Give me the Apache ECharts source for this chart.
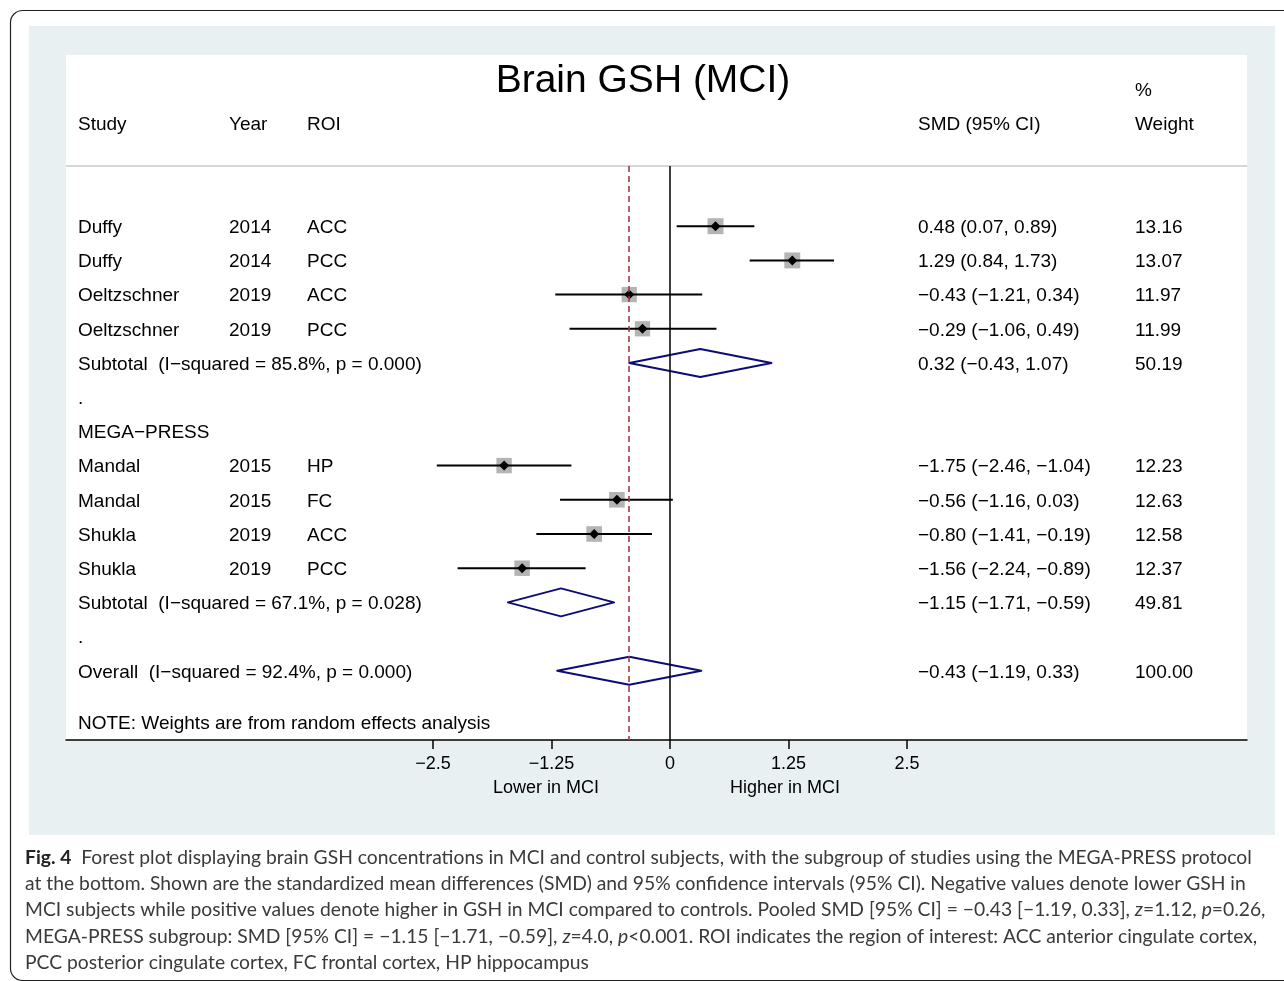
<!DOCTYPE html>
<html>
<head>
<meta charset="utf-8">
<script src="https://cdn.jsdelivr.net/npm/echarts@6/dist/echarts.min.js"></script>
<style>
html,body{margin:0;padding:0;background:#fff;}
#chart{width:1284px;height:981px;}
</style>
</head>
<body>
<div id="chart"></div>
<script>
// ---------- data ----------
const chartTitle = 'Brain GSH (MCI)';
const rowStudy = ['', 'Duffy', 'Duffy', 'Oeltzschner', 'Oeltzschner',
  'Subtotal  (I\u2212squared = 85.8%, p = 0.000)', '.', 'MEGA\u2212PRESS',
  'Mandal', 'Mandal', 'Shukla', 'Shukla',
  'Subtotal  (I\u2212squared = 67.1%, p = 0.028)', '.',
  'Overall  (I\u2212squared = 92.4%, p = 0.000)'];
const rowYear = ['', '2014', '2014', '2019', '2019', '', '', '', '2015', '2015', '2019', '2019', '', '', ''];
const rowROI  = ['', 'ACC', 'PCC', 'ACC', 'PCC', '', '', '', 'HP', 'FC', 'ACC', 'PCC', '', '', ''];
const rowType = ['', 'study', 'study', 'study', 'study', 'pooled', '', '', 'study', 'study', 'study', 'study', 'pooled', '', 'pooled'];
const rowSMD  = [null, 0.48, 1.29, -0.43, -0.29, 0.32, null, null, -1.75, -0.56, -0.80, -1.56, -1.15, null, -0.43];
const rowLo   = [null, 0.07, 0.84, -1.21, -1.06, -0.43, null, null, -2.46, -1.16, -1.41, -2.24, -1.71, null, -1.19];
const rowHi   = [null, 0.89, 1.73, 0.34, 0.49, 1.07, null, null, -1.04, 0.03, -0.19, -0.89, -0.59, null, 0.33];
const rowWeight = [null, 13.16, 13.07, 11.97, 11.99, 50.19, null, null, 12.23, 12.63, 12.58, 12.37, 49.81, null, 100.00];
const tickValues = [-2.5, -1.25, 0, 1.25, 2.5];
const overallSMD = rowSMD[14];
const headers = { study: 'Study', year: 'Year', roi: 'ROI', smd: 'SMD (95% CI)', pct: '%', weight: 'Weight' };
const noteText = 'NOTE: Weights are from random effects analysis';
const lowerLabel = 'Lower in MCI';
const higherLabel = 'Higher in MCI';
const captionLines = [
  '{b|Fig. 4}  Forest plot displaying brain GSH concentrations in MCI and control subjects, with the subgroup of studies using the MEGA-PRESS protocol',
  'at the bottom. Shown are the standardized mean differences (SMD) and 95% confidence intervals (95% CI). Negative values denote lower GSH in',
  'MCI subjects while positive values denote higher in GSH in MCI compared to controls. Pooled SMD [95% CI] = \u22120.43 [\u22121.19, 0.33], {i|z}=1.12, {i|p}=0.26,',
  'MEGA-PRESS subgroup: SMD [95% CI] = \u22121.15 [\u22121.71, \u22120.59], {i|z}=4.0, {i|p}<0.001. ROI indicates the region of interest: ACC anterior cingulate cortex,',
  'PCC posterior cingulate cortex, FC frontal cortex, HP hippocampus'
];

// ---------- helpers ----------
const FONT = '"Liberation Sans", Arial, Helvetica, sans-serif';
const TY = 1.5; // baseline nudge for text
function fmt(v) { return (v < 0 ? '\u2212' : '') + Math.abs(v).toFixed(2); }

const studyData = [], pooledData = [], textData = [];
rowStudy.forEach((s, i) => {
  textData.push([i]);
  if (rowType[i] === 'study') studyData.push([i, rowSMD[i], rowLo[i], rowHi[i], rowWeight[i]]);
  if (rowType[i] === 'pooled') pooledData.push([i, rowSMD[i], rowLo[i], rowHi[i], rowWeight[i]]);
});

const chart = echarts.init(document.getElementById('chart'), null, { renderer: 'canvas' });

function txt(t, x, y, size, align) {
  return { type: 'text', style: { text: t, x: x, y: y + TY, font: size + 'px ' + FONT, fill: '#000', textAlign: align || 'left', textVerticalAlign: 'middle' } };
}

const graphics = [
  { type: 'rect', z: -10, shape: { x: 10.5, y: 10.5, width: 1300, height: 970, r: 12 },
    style: { fill: '#fff', stroke: '#222', lineWidth: 1.2 } },
  { type: 'rect', z: -9, shape: { x: 29, y: 26, width: 1246, height: 809 }, style: { fill: '#E8F0F2' } },
  { type: 'rect', z: -8, shape: { x: 66, y: 55, width: 1181, height: 685 }, style: { fill: '#fff' } },
  { type: 'line', z: -7, shape: { x1: 66, y1: 166, x2: 1247, y2: 166 }, style: { stroke: '#C8C8C8', lineWidth: 1.5 } },
  txt(chartTitle, 643, 80, 39, 'center'),
  txt(headers.study, 78, 123, 19),
  txt(headers.year, 229, 123, 19),
  txt(headers.roi, 307, 123, 19),
  txt(headers.smd, 918, 123, 19),
  txt(headers.pct, 1135, 89, 19),
  txt(headers.weight, 1135, 123, 19),
  txt(noteText, 78, 722, 19),
  txt(lowerLabel, 546, 787, 18, 'center'),
  txt(higherLabel, 785, 787, 18, 'center')
];
const capY = [857, 883, 909, 936, 962];
const CAP = 19.3;
captionLines.forEach((t, i) => {
  graphics.push({ type: 'text', style: {
    text: t, x: 25, y: capY[i] + 1, font: CAP + 'px Lato, "Open Sans", sans-serif', fill: '#3a3a3a',
    textVerticalAlign: 'middle',
    rich: {
      b: { fontWeight: 'bold', fontSize: CAP, fontFamily: 'Lato', fill: '#222' },
      i: { fontStyle: 'italic', fontSize: CAP, fontFamily: 'Lato', fill: '#3a3a3a' }
    }
  } });
});

const PX_PER_UNIT = 94.8;
const option = {
  backgroundColor: '#fff',
  animation: false,
  graphic: { elements: graphics },
  grid: { left: 66, right: 37, top: 166, bottom: 241, containLabel: false },
  xAxis: {
    type: 'value',
    min: -604 / PX_PER_UNIT,
    max: 577 / PX_PER_UNIT,
    splitLine: { show: false },
    axisLine: { show: true, onZero: false, lineStyle: { color: '#000', width: 1.5 } },
    axisTick: { show: true, customValues: tickValues, length: 9, lineStyle: { color: '#000', width: 1.5 } },
    axisLabel: { show: true, customValues: tickValues, margin: 15, fontSize: 18, fontFamily: FONT, color: '#000',
      formatter: v => (v < 0 ? '\u2212' : '') + String(Math.abs(v)) }
  },
  yAxis: {
    type: 'value', inverse: true, show: false,
    min: (166 - 192) / 34.2, max: (740 - 192) / 34.2
  },
  series: [
    {
      type: 'line', data: [], silent: true,
      markLine: {
        symbol: 'none', silent: true, label: { show: false },
        data: [
          { xAxis: 0, lineStyle: { color: '#000', type: 'solid', width: 1.5 } },
          { xAxis: overallSMD, lineStyle: { color: '#A33A48', type: [6, 4], width: 1.6 } }
        ]
      }
    },
    {
      type: 'custom', clip: false, silent: true,
      data: studyData,
      encode: { x: [1, 2, 3], y: 0 },
      renderItem: function (params, api) {
        const row = api.value(0), smd = api.value(1), lo = api.value(2), hi = api.value(3), w = api.value(4);
        const pL = api.coord([lo, row]), pH = api.coord([hi, row]), pC = api.coord([smd, row]);
        const s = 4.4 * Math.sqrt(w);
        const d = 5;
        return { type: 'group', children: [
          { type: 'rect', shape: { x: pC[0] - s / 2, y: pC[1] - s / 2, width: s, height: s }, style: { fill: '#B4B4B4' } },
          { type: 'line', shape: { x1: pL[0], y1: pL[1], x2: pH[0], y2: pH[1] }, style: { stroke: '#000', lineWidth: 2 } },
          { type: 'polygon', shape: { points: [[pC[0] - d, pC[1]], [pC[0], pC[1] - d], [pC[0] + d, pC[1]], [pC[0], pC[1] + d]] }, style: { fill: '#000' } }
        ] };
      }
    },
    {
      type: 'custom', clip: false, silent: true,
      data: pooledData,
      encode: { x: [1, 2, 3], y: 0 },
      renderItem: function (params, api) {
        const row = api.value(0), smd = api.value(1), lo = api.value(2), hi = api.value(3);
        const pL = api.coord([lo, row]), pH = api.coord([hi, row]), pC = api.coord([smd, row]);
        const h = 14;
        return { type: 'polygon', shape: { points: [[pL[0], pL[1]], [pC[0], pC[1] - h], [pH[0], pH[1]], [pC[0], pC[1] + h]] },
          style: { fill: 'none', stroke: '#0C0C78', lineWidth: 2, lineJoin: 'round' } };
      }
    },
    {
      type: 'custom', clip: false, silent: true,
      data: textData,
      encode: { y: 0 },
      renderItem: function (params, api) {
        const i = api.value(0);
        const y = api.coord([0, i])[1] + TY;
        const f = '19px ' + FONT;
        const mk = (t, x) => ({ type: 'text', style: { text: t, x: x, y: y, font: f, fill: '#000', textVerticalAlign: 'middle' } });
        const kids = [mk(rowStudy[i], 78), mk(rowYear[i], 229), mk(rowROI[i], 307)];
        if (rowSMD[i] !== null) {
          kids.push(mk(fmt(rowSMD[i]) + ' (' + fmt(rowLo[i]) + ', ' + fmt(rowHi[i]) + ')', 918));
          kids.push(mk(rowWeight[i].toFixed(2), 1135));
        }
        return { type: 'group', children: kids };
      }
    }
  ]
};
chart.setOption(option);
</script>
</body>
</html>
